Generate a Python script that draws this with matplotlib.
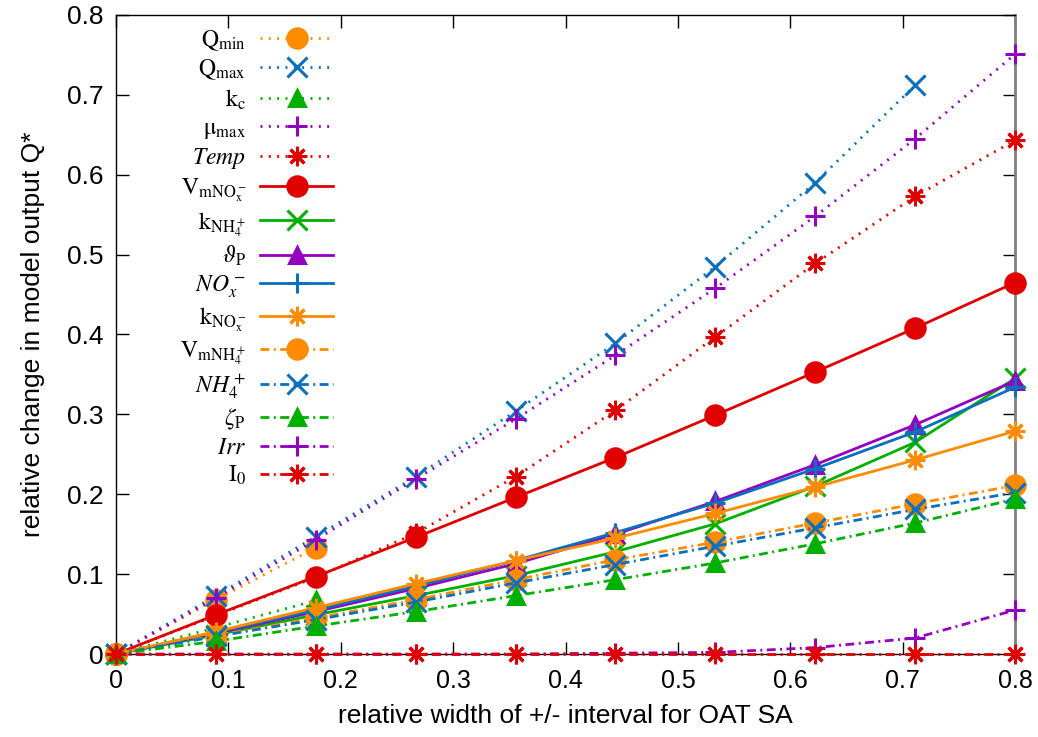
import numpy as np
import matplotlib
matplotlib.use("Agg")
import matplotlib.pyplot as plt

plt.rcParams['font.family'] = ['Liberation Sans', 'DejaVu Sans']
plt.rcParams['mathtext.fontset'] = 'stix'

# relative interval widths (10 steps from 0 to 0.8)
width = np.linspace(0, 0.8, 10)

q_min = [0, 0.068, 0.133]
q_max = [0, 0.073, 0.147, 0.222, 0.304, 0.389, 0.485, 0.590, 0.712]
k_c = [0, 0.033, 0.067]
mu_max = [0, 0.070, 0.143, 0.219, 0.294, 0.374, 0.458, 0.548, 0.645, 0.751]
temp = [0, 0.048, 0.096, 0.151, 0.222, 0.305, 0.397, 0.489, 0.573, 0.643]
vm_nox = [0, 0.049, 0.097, 0.146, 0.196, 0.246, 0.299, 0.353, 0.408, 0.465]
k_nh4 = [0, 0.024, 0.049, 0.073, 0.098, 0.128, 0.163, 0.210, 0.265, 0.345]
theta_p = [0, 0.026, 0.053, 0.082, 0.113, 0.150, 0.191, 0.237, 0.287, 0.342]
nox = [0, 0.027, 0.055, 0.085, 0.117, 0.152, 0.189, 0.232, 0.278, 0.334]
k_nox = [0, 0.028, 0.058, 0.088, 0.117, 0.145, 0.176, 0.209, 0.243, 0.279]
vm_nh4 = [0, 0.023, 0.045, 0.068, 0.093, 0.118, 0.140, 0.164, 0.188, 0.211]
nh4 = [0, 0.022, 0.043, 0.065, 0.089, 0.112, 0.135, 0.158, 0.181, 0.202]
zeta_p = [0, 0.016, 0.035, 0.053, 0.073, 0.093, 0.114, 0.138, 0.164, 0.194]
irr = [0, 0, 0, 0, 0, 0.001, 0.002, 0.008, 0.020, 0.055]
i_0 = [0, 0, 0, 0, 0, 0, 0, 0, 0, 0]

labels = [r'$\mathrm{Q_{min}}$', r'$\mathrm{Q_{max}}$', r'$\mathrm{k_c}$',
          r'$\mathrm{\mu_{max}}$', r'$Temp$', r'$\mathrm{V_{mNO_x^-}}$',
          r'$\mathrm{k_{NH_4^+}}$', r'$\vartheta_\mathrm{P}$', r'$NO_x^-$',
          r'$\mathrm{k_{NO_x^-}}$', r'$\mathrm{V_{mNH_4^+}}$', r'$NH_4^+$',
          r'$\zeta_\mathrm{P}$', r'$Irr$', r'$\mathrm{I_0}$']
series = [q_min, q_max, k_c, mu_max, temp, vm_nox, k_nh4, theta_p, nox,
          k_nox, vm_nh4, nh4, zeta_p, irr, i_0]

orange = '#ff8c00'
blue = '#0a6fbd'
green = '#00b000'
purple = '#9400c0'
red = '#e00000'
colors = ([orange, blue, green, purple, red]
          + [red, green, purple, blue, orange]
          + [orange, blue, green, purple, red])

star = (8, 2, 0)
markers = ['o', 'x', '^', '+', star] * 3
sizes = [14, 14, 12, 15, 14] * 3
dotted = (0, (0.7, 2.3))
dashdot = (0, (3.2, 1.6, 0.7, 1.6))
styles = [dotted] * 5 + ['-'] * 5 + [dashdot] * 5

fig = plt.figure(figsize=(10.38, 7.37), dpi=100)
ax = fig.add_axes([116 / 1038, 1 - 654 / 737, 899 / 1038, 639 / 737])

for ys, lab, c, m, ms, ls in zip(series, labels, colors, markers, sizes, styles):
    ax.plot(width[:len(ys)], ys, color=c, marker=m, linestyle=ls, lw=2,
            ms=ms, mew=2.2, label=lab, clip_on=False, zorder=3)

ax.set_xlim(0, 0.8)
ax.set_ylim(0, 0.8)
ticks = np.arange(0, 0.81, 0.1)
tick_text = ['0', '0.1', '0.2', '0.3', '0.4', '0.5', '0.6', '0.7', '0.8']
ax.set_xticks(ticks)
ax.set_yticks(ticks)
ax.set_xticklabels(tick_text)
ax.set_yticklabels(tick_text)
ax.tick_params(direction='in', length=9, width=1, top=True, right=True)
ax.tick_params(axis='x', labelsize=18, pad=11)
ax.tick_params(axis='y', labelsize=19, pad=9)
for sp in ax.spines.values():
    sp.set_linewidth(1)
ax.spines['right'].set_color('#808080')
ax.spines['right'].set_linewidth(2)

ax.set_xlabel('relative width of +/- interval for OAT SA', fontsize=19, labelpad=8)
ax.set_ylabel('relative change in model output Q*', fontsize=19, labelpad=16)

leg = ax.legend(loc='upper right', bbox_to_anchor=(0.26, 1.005), frameon=False,
                markerfirst=False, fontsize=17, handlelength=3.1,
                handletextpad=0.6, labelspacing=0.22, borderpad=0.2)

fig.savefig('out.png', dpi=100)
